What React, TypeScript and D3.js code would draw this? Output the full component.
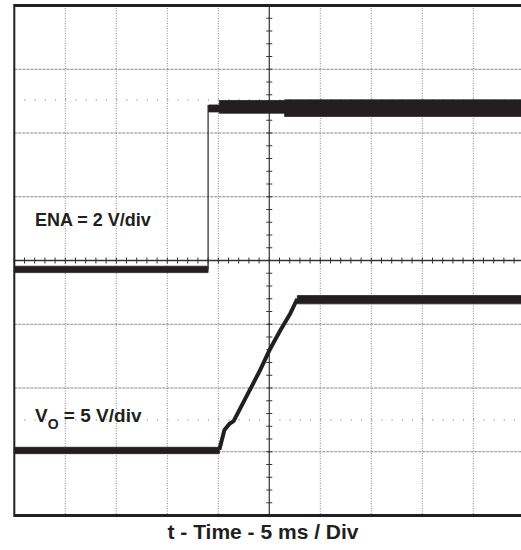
import React from "react";
import * as d3 from "d3";

// time in ms (5 ms/div, 0 at centre), amplitude in screen divisions
const timeTicks = [-20, -15, -10, -5, 5, 10, 15, 20];
const divTicks = [-3, -2, -1, 1, 2, 3];
const markerRows = [2.52, -2.5];

const enaLow = [
  { t: -25, lo: -0.19, hi: -0.09 },
  { t: -6.0, lo: -0.19, hi: -0.09 },
];
const enaEdge = [
  { t: -6.0, v: -0.14 },
  { t: -6.0, v: 2.44 },
];
const enaHigh = [
  { t: -5.95, lo: 2.33, hi: 2.44 },
  { t: -4.9, lo: 2.33, hi: 2.44 },
  { t: -4.9, lo: 2.31, hi: 2.51 },
  { t: 1.5, lo: 2.31, hi: 2.51 },
  { t: 1.5, lo: 2.26, hi: 2.52 },
  { t: 25, lo: 2.26, hi: 2.52 },
];

const voLow = [
  { t: -25, lo: -3.03, hi: -2.93 },
  { t: -4.9, lo: -3.03, hi: -2.93 },
];
const voRamp = [
  { t: -4.9, v: -2.97 },
  { t: -4.4, v: -2.66 },
  { t: -3.9, v: -2.56 },
  { t: -3.5, v: -2.52 },
  { t: -2.2, v: -2.12 },
  { t: -0.9, v: -1.72 },
  { t: 0.1, v: -1.38 },
  { t: 1.1, v: -1.09 },
  { t: 2.06, v: -0.83 },
  { t: 2.75, v: -0.6 },
];
const voHigh = [
  { t: 2.75, lo: -0.68, hi: -0.55 },
  { t: 25, lo: -0.68, hi: -0.55 },
];

const W = 521;
const H = 550;
const ink = "#231f20";

export default function App() {
  const x = d3.scaleLinear().domain([-25, 25]).range([14.3, 524.3]);
  const y = d3.scaleLinear().domain([-4, 4]).range([515.5, 5.5]);

  const band = d3
    .area<{ t: number; lo: number; hi: number }>()
    .x((d) => x(d.t))
    .y0((d) => y(d.lo))
    .y1((d) => y(d.hi));
  const line = d3
    .line<{ t: number; v: number }>()
    .x((d) => x(d.t))
    .y((d) => y(d.v));

  const minorX = d3.range(-25, 25.01, 1);
  const minorY = d3.range(-4, 4.01, 0.2);

  return (
    <svg
      width={W}
      height={H}
      style={{ position: "absolute", left: 0, top: 0, background: "#fff" }}
      fontFamily="'Liberation Sans', Arial, sans-serif"
    >
      {/* grid */}
      {timeTicks.map((t) => (
        <line
          key={"gx" + t}
          x1={x(t)}
          x2={x(t)}
          y1={y(4)}
          y2={y(-4)}
          stroke="#888"
          strokeWidth={1}
          strokeDasharray="1,1.5"
        />
      ))}
      {divTicks.map((v) => (
        <line
          key={"gy" + v}
          x1={x(-25)}
          x2={W}
          y1={y(v)}
          y2={y(v)}
          stroke="#888"
          strokeWidth={1.2}
          strokeDasharray="3,1"
        />
      ))}
      {markerRows.map((v) => (
        <line
          key={"m" + v}
          x1={x(-25) + 10}
          x2={W}
          y1={y(v)}
          y2={y(v)}
          stroke="#999"
          strokeWidth={1.2}
          strokeDasharray="1.2,9"
        />
      ))}

      {/* centre axes with minor ticks */}
      <line x1={x(0)} x2={x(0)} y1={y(4)} y2={y(-4)} stroke="#444" strokeWidth={1.3} />
      <line x1={x(-25)} x2={W} y1={y(0)} y2={y(0)} stroke="#333" strokeWidth={1.5} />
      {minorX.map((t) => (
        <line key={"tx" + t} x1={x(t)} x2={x(t)} y1={y(0) - 3} y2={y(0) + 3} stroke="#333" strokeWidth={1} />
      ))}
      {minorY.map((v) => (
        <line key={"ty" + v} x1={x(0) - 3} x2={x(0) + 3} y1={y(v)} y2={y(v)} stroke="#333" strokeWidth={1} />
      ))}

      {/* ENA trace */}
      <path d={band(enaLow)!} fill={ink} stroke={ink} strokeWidth={0.8} />
      <path d={line(enaEdge)!} fill="none" stroke="#333" strokeWidth={1.3} />
      <path d={band(enaHigh)!} fill={ink} stroke={ink} strokeWidth={0.8} />

      {/* VO trace */}
      <path d={band(voLow)!} fill={ink} stroke={ink} strokeWidth={0.8} />
      <path d={line(voRamp)!} fill="none" stroke={ink} strokeWidth={4} strokeLinejoin="round" />
      <path d={band(voHigh)!} fill={ink} stroke={ink} strokeWidth={0.8} />

      {/* frame */}
      <line x1={x(-25)} x2={x(-25)} y1={y(4) - 1.5} y2={y(-4) + 1.5} stroke={ink} strokeWidth={2} />
      <line x1={x(-25)} x2={W} y1={y(4)} y2={y(4)} stroke={ink} strokeWidth={3} />
      <line x1={x(-25)} x2={W} y1={y(-4)} y2={y(-4)} stroke={ink} strokeWidth={3} />

      {/* labels */}
      <text x={35} y={226} fontSize={18} fontWeight="bold" fill={ink}>
        ENA = 2 V/div
      </text>
      <text x={35} y={422} fontSize={19} fontWeight="bold" fill={ink}>
        V<tspan fontSize={14} dy={7}>O</tspan>
        <tspan dy={-7}> = 5 V/div</tspan>
      </text>
      <text x={263} y={539} fontSize={21} fontWeight="bold" fill={ink} textAnchor="middle">
        t - Time - 5 ms / Div
      </text>
    </svg>
  );
}
